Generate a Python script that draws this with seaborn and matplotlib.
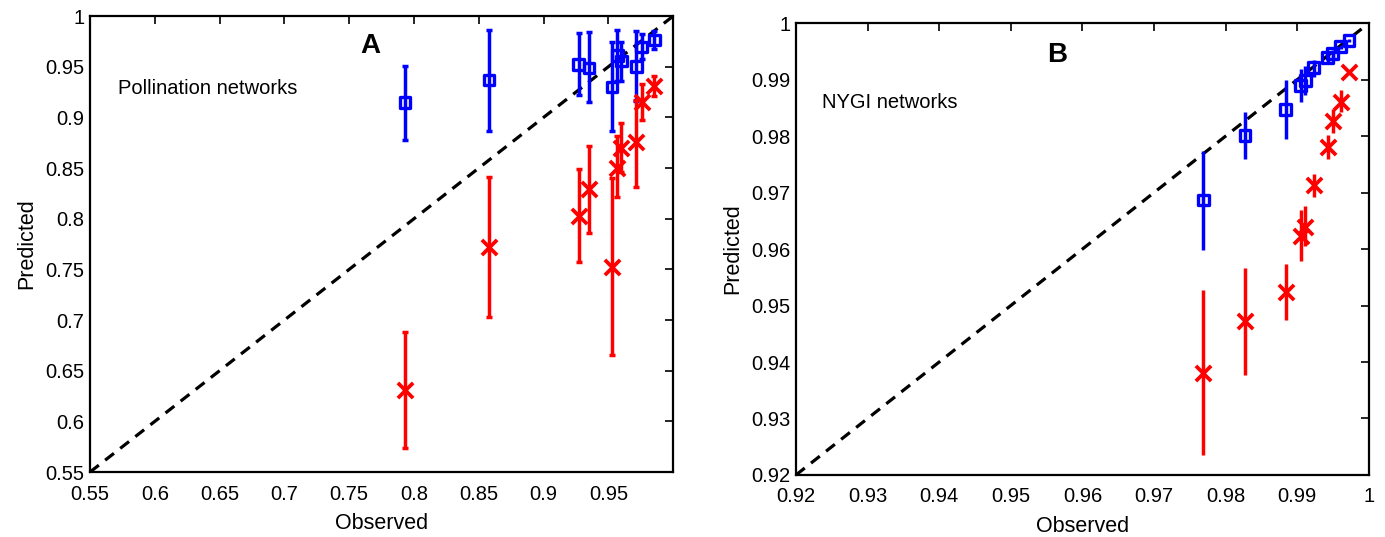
import numpy as np
import pandas as pd
import matplotlib
matplotlib.use("Agg")
import matplotlib.pyplot as plt
import seaborn as sns
from matplotlib.ticker import FuncFormatter

# ---------------- Panel A: Pollination networks ----------------
a_obs = [0.793, 0.858, 0.927, 0.935, 0.9528, 0.957, 0.960, 0.9716, 0.9757, 0.9855]
a_blue = [0.9144, 0.937, 0.952, 0.9487, 0.930, 0.9608, 0.9556, 0.950, 0.9696, 0.9765]
a_blue_hi = [0.951, 0.986, 0.983, 0.984, 0.974, 0.986, 0.9745, 0.985, 0.982, 0.9856]
a_blue_lo = [0.878, 0.887, 0.922, 0.915, 0.887, 0.936, 0.936, 0.916, 0.9576, 0.9674]
a_red = [0.631, 0.772, 0.803, 0.8294, 0.7523, 0.850, 0.870, 0.8758, 0.915, 0.931]
a_red_hi = [0.688, 0.841, 0.849, 0.8716, 0.840, 0.8814, 0.8948, 0.9173, 0.933, 0.9409]
a_red_lo = [0.574, 0.703, 0.7576, 0.7863, 0.6657, 0.821, 0.8458, 0.8317, 0.8977, 0.9216]

# ---------------- Panel B: NYGI networks ----------------
b_obs = [0.9769, 0.9827, 0.9884, 0.99046, 0.9911, 0.99227, 0.99423, 0.99492, 0.99608, 0.9972]
b_blue = [0.9687, 0.9801, 0.9847, 0.9889, 0.9898, 0.9921, 0.99385, 0.99462, 0.99581, 0.99687]
b_blue_hi = [0.9774, 0.9842, 0.990, 0.9918, 0.9924, 0.99355, 0.9951, 0.9953, 0.9962, 0.9971]
b_blue_lo = [0.9599, 0.976, 0.9795, 0.986, 0.9872, 0.9905, 0.9927, 0.9939, 0.9954, 0.9966]
b_red = [0.9381, 0.9472, 0.9524, 0.9623, 0.9639, 0.9713, 0.978, 0.9827, 0.9861, 0.99137]
b_red_hi = [0.9527, 0.9567, 0.9574, 0.9669, 0.9676, 0.9733, 0.9802, 0.9848, 0.9882, 0.9917]
b_red_lo = [0.9236, 0.9377, 0.9474, 0.9578, 0.9605, 0.9692, 0.976, 0.9806, 0.9842, 0.9910]

a_xticks = [0.55, 0.6, 0.65, 0.7, 0.75, 0.8, 0.85, 0.9, 0.95]
a_yticks = [0.55, 0.6, 0.65, 0.7, 0.75, 0.8, 0.85, 0.9, 0.95, 1.0]
b_ticks = [0.92, 0.93, 0.94, 0.95, 0.96, 0.97, 0.98, 0.99, 1.0]

sns.set_theme(style="white")
plt.rcParams['font.family'] = ['Liberation Sans', 'DejaVu Sans']
plt.rcParams['text.color'] = 'black'
plt.rcParams['axes.labelcolor'] = 'black'
plt.rcParams['xtick.color'] = 'black'
plt.rcParams['ytick.color'] = 'black'

fig = plt.figure(figsize=(13.85, 5.37), dpi=100)
axA = fig.add_axes([0.065, 0.121, 0.421, 0.849])
axB = fig.add_axes([0.5747, 0.1155, 0.4137, 0.8415])

fmt = FuncFormatter(lambda v, p: ('%g' % round(v, 4)))


def draw(ax, obs, blue, bhi, blo, red, rhi, rlo, lims, capsize):
    lo, hi = lims
    ax.plot([lo, hi], [lo, hi], ls=(0, (3.5, 2.5)), color='black', lw=2.3, zorder=1)
    blue = np.array(blue); red = np.array(red)
    ax.errorbar(obs, blue, yerr=[blue - np.array(blo), np.array(bhi) - blue],
                fmt='none', ecolor='blue', elinewidth=2.5, capsize=capsize, capthick=2.5, zorder=2)
    ax.errorbar(obs, red, yerr=[red - np.array(rlo), np.array(rhi) - red],
                fmt='none', ecolor='red', elinewidth=2.5, capsize=capsize, capthick=2.5, zorder=2)
    dfb = pd.DataFrame({'obs': obs, 'pred': blue})
    dfr = pd.DataFrame({'obs': obs, 'pred': red})
    sns.scatterplot(data=dfb, x='obs', y='pred', ax=ax, marker='s', s=60,
                    facecolor='none', edgecolor='blue', linewidth=2.4, zorder=3)
    sns.scatterplot(data=dfr, x='obs', y='pred', ax=ax, marker='x', s=120,
                    color='red', linewidth=2.7, zorder=3)
    ax.set_xlim(lo, hi)
    ax.set_ylim(lo, hi)
    ax.tick_params(direction='in', length=6, width=1.2, top=True, right=True,
                   labelsize=14.5, colors='black')
    ax.tick_params(axis='x', pad=9)
    ax.tick_params(axis='y', pad=4)
    for s in ax.spines.values():
        s.set_color('black')
        s.set_linewidth(1.6)
        s.set_visible(True)
    ax.set_xlabel('Observed', fontsize=15.5, color='black', labelpad=7)
    ax.set_ylabel('Predicted', fontsize=15.5, color='black', labelpad=6)


draw(axA, a_obs, a_blue, a_blue_hi, a_blue_lo, a_red, a_red_hi, a_red_lo, (0.55, 1.0), 2.5)
axA.set_xticks(a_xticks)
axA.set_yticks(a_yticks)
axA.xaxis.set_major_formatter(fmt)
axA.yaxis.set_major_formatter(fmt)
axA.text(0.766, 0.9706, 'A', fontsize=20, fontweight='bold', ha='center', va='center', color='black')
axA.text(0.5716, 0.9284, 'Pollination networks', fontsize=14.5, ha='left', va='center', color='black')

draw(axB, b_obs, b_blue, b_blue_hi, b_blue_lo, b_red, b_red_hi, b_red_lo, (0.92, 1.0), 0)
axB.set_xticks(b_ticks)
axB.set_yticks(b_ticks)
axB.xaxis.set_major_formatter(fmt)
axB.yaxis.set_major_formatter(fmt)
axB.text(0.9565, 0.9944, 'B', fontsize=20, fontweight='bold', ha='center', va='center', color='black')
axB.text(0.9237, 0.9859, 'NYGI networks', fontsize=14.5, ha='left', va='center', color='black')

fig.savefig('out.png', dpi=100, facecolor='white')
